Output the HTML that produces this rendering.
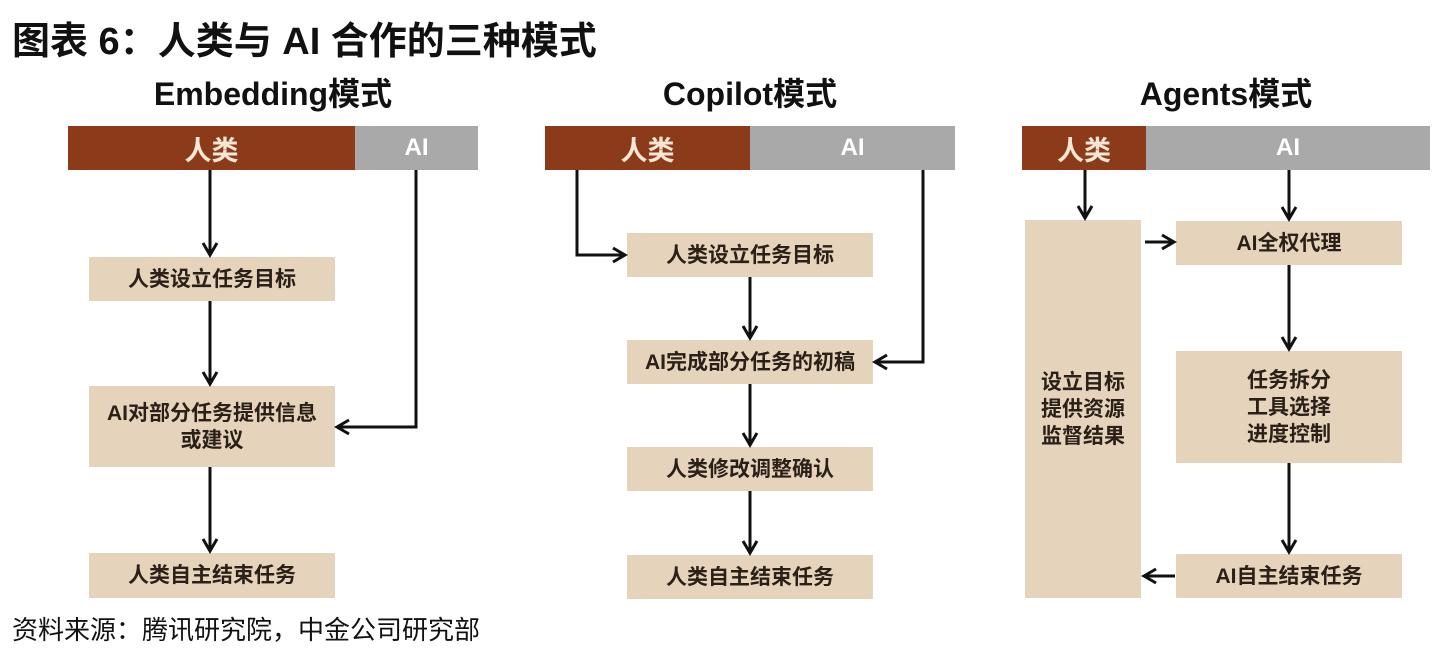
<!DOCTYPE html>
<html><head><meta charset="utf-8"><style>
body{margin:0;width:1438px;height:662px;background:#fff;position:relative;overflow:hidden;font-family:"Liberation Sans","Noto Sans CJK SC",sans-serif;}
.a{position:absolute;display:flex;align-items:center;justify-content:center;text-align:center;font-weight:bold;}
.r{background:#8B3A1A;color:#f6e6d6;font-size:27px;}
.g{background:#A9A9A9;color:#fff;font-size:24px;}
.b{background:#E6D3BC;color:#2a2018;font-size:21px;line-height:27px;}
.h{font-size:32px;color:#111;white-space:nowrap;}
svg{position:absolute;left:0;top:0;}
</style></head><body>
<div class="a" style="left:12px;top:10px;font-size:38px;color:#111;justify-content:flex-start;white-space:nowrap">图表 6：人类与 AI 合作的三种模式</div>
<div class="a h" style="left:100px;top:72px;width:346px;height:40px">Embedding模式</div>
<div class="a h" style="left:580px;top:72px;width:340px;height:40px">Copilot模式</div>
<div class="a h" style="left:1080px;top:72px;width:292px;height:40px">Agents模式</div>

<div class="a r" style="left:68px;top:126px;width:287px;height:44px">人类</div>
<div class="a g" style="left:355px;top:126px;width:123px;height:44px">AI</div>
<div class="a r" style="left:545px;top:126px;width:205px;height:44px">人类</div>
<div class="a g" style="left:750px;top:126px;width:205px;height:44px">AI</div>
<div class="a r" style="left:1022px;top:126px;width:124px;height:44px">人类</div>
<div class="a g" style="left:1146px;top:126px;width:284px;height:44px">AI</div>

<div class="a b" style="left:89px;top:257px;width:246px;height:44px">人类设立任务目标</div>
<div class="a b" style="left:89px;top:386px;width:246px;height:81px">AI对部分任务提供信息<br>或建议</div>
<div class="a b" style="left:89px;top:553px;width:246px;height:45px">人类自主结束任务</div>

<div class="a b" style="left:627px;top:233px;width:246px;height:44px">人类设立任务目标</div>
<div class="a b" style="left:627px;top:340px;width:246px;height:44px">AI完成部分任务的初稿</div>
<div class="a b" style="left:627px;top:447px;width:246px;height:44px">人类修改调整确认</div>
<div class="a b" style="left:627px;top:555px;width:246px;height:44px">人类自主结束任务</div>

<div class="a b" style="left:1025px;top:220px;width:116px;height:378px">设立目标<br>提供资源<br>监督结果</div>
<div class="a b" style="left:1176px;top:221px;width:226px;height:44px">AI全权代理</div>
<div class="a b" style="left:1176px;top:351px;width:226px;height:112px">任务拆分<br>工具选择<br>进度控制</div>
<div class="a b" style="left:1176px;top:554px;width:226px;height:44px">AI自主结束任务</div>

<div class="a" style="left:12px;top:610px;font-size:26px;font-weight:normal;color:#111;white-space:nowrap">资料来源：腾讯研究院，中金公司研究部</div>

<svg width="1438" height="662" fill="none" stroke="#111" stroke-width="3">
<defs><marker id="m" markerWidth="18" markerHeight="18" refX="15" refY="9" orient="auto" markerUnits="userSpaceOnUse"><path d="M3,2 L15,9 L3,16" stroke="#111" stroke-width="3" fill="none"/></marker></defs>
<g marker-end="url(#m)">
<path d="M210 170V255"/><path d="M210 301V384"/><path d="M210 467V551"/>
<path d="M416 170V427H337"/>
<path d="M577 170V255H625"/><path d="M750 277V338"/><path d="M750 384V445"/><path d="M750 491V553"/>
<path d="M923 170V362H875"/>
<path d="M1085 170V218"/><path d="M1289 170V219"/><path d="M1145 242H1174"/>
<path d="M1289 265V349"/><path d="M1289 463V552"/><path d="M1175 576H1144"/>
</g></svg>
</body></html>
